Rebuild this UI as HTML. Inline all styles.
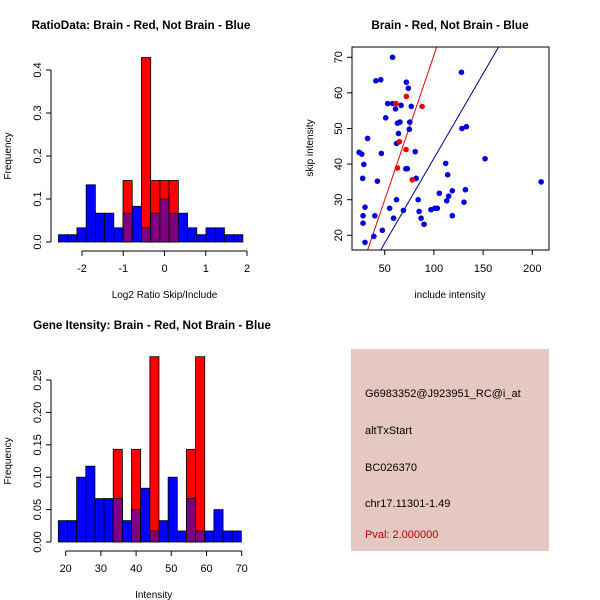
<!DOCTYPE html>
<html><head><meta charset="utf-8"><style>
body{margin:0;background:#fff}
svg{display:block;font-family:"Liberation Sans",sans-serif}
</style></head><body>
<svg id="s" width="600" height="600" xmlns="http://www.w3.org/2000/svg">
<rect x="351" y="349" width="198" height="202" fill="#e6c8c2"/>
<g font-size="11">
<text x="365" y="397">G6983352@J923951_RC@i_at</text>
<text x="365" y="434">altTxStart</text>
<text x="365" y="471">BC026370</text>
<text x="365" y="507">chr17.11301-1.49</text>
<text x="365" y="538" fill="#b00000">Pval: 2.000000</text>
</g>
</svg>
<script>
// ---- Histogram 1: RatioData ----
const h1Blue=[0.017,0.017,0.033,0.133,0.067,0.067,0.033,0.067,0.083,0.033,0.067,0.1,0.067,0.067,0.033,0.017,0.033,0.033,0.017,0.017];
const h1Red=[0,0,0,0,0,0,0,0.143,0,0.429,0.143,0.143,0.143,0,0,0,0,0,0,0];
const h1Start=-2.57, h1Width=0.2235;
const h1XTicks=[-2,-1,0,1,2];
const h1YTicks=[0,0.1,0.2,0.3,0.4];
// ---- Histogram 2: Gene Intensity ----
const h2Blue=[0.033,0.033,0.1,0.117,0.067,0.067,0.067,0.033,0.05,0.083,0.017,0.033,0.1,0.017,0.067,0.017,0.017,0.05,0.017,0.017];
const h2Red=[0,0,0,0,0,0,0.143,0,0.143,0,0.286,0,0,0,0.143,0.286,0,0,0,0];
const h2Start=17.9, h2Width=2.6;
const h2XTicks=[20,30,40,50,60,70];
const h2YTicks=[0,0.05,0.10,0.15,0.20,0.25];
const h2YLabels=["0.00","0.05","0.10","0.15","0.20","0.25"];
// ---- Scatter ----
const blueX=[58,41,46,128,72,74,53,58,66.6,77,61,51,63,65.5,75.5,64,75,128.5,133,62,32.6,24,26.7,46.6,81,28.8,112,152,73,71.5,27.6,114,82,42.6,209,118.7,132,105.5,115,113,130.6,62,84,85,97,101,103.5,55,69,30,28,40,118.7,59,87,90,28,47.6,39,30];
const blueY=[70,63.4,63.7,65.8,63,61.3,57,57,56.5,56.2,55.5,53,51.5,51.8,51.8,48.6,49.8,50,50.5,45.8,47.2,43.3,42.8,43,43.5,39.9,40.2,41.5,38.7,38.7,36,37,36,35.2,35,32.5,32.8,31.8,31,29.7,29.3,30,30,26.7,27.2,27.6,27.6,27.6,27,27.9,25.5,25.5,25.5,24.8,24.8,23.1,23.4,21.4,19.7,18];
const redX=[61.5,72,88,65,71.7,63,78];
const redY=[57,59,56.2,46.3,44.1,38.9,35.6];
const redLine=[-10.65,0.812]; // intercept, slope
const blueLine=[-6.0,0.476];
const scXTicks=[50,100,150,200];
const scYTicks=[20,30,40,50,60,70];

const NS="http://www.w3.org/2000/svg", S=document.getElementById('s');
function mk(t,a,p){const e=document.createElementNS(NS,t);for(const k in a)e.setAttribute(k,a[k]);(p||S).appendChild(e);return e;}
function txt(x,y,s,a,p){const e=mk('text',Object.assign({x:x,y:y},a),p);e.textContent=s;return e;}

function hist(o){
 const g=mk('g',{});
 
 
 const X=v=>o.x0px+(v-o.x0)*o.xs, Y=v=>o.y0px-v*o.ys;
 const n=o.blue.length;
 for(let i=0;i<n;i++){
  const a=X(o.start+i*o.w), b=X(o.start+(i+1)*o.w);
  if(o.blue[i]>0){const r=mk('rect',{x:a,y:Y(o.blue[i]),width:b-a,height:o.blue[i]*o.ys,fill:'#0000ff',stroke:'#000','stroke-width':0.8},g);
   }
  if(o.red[i]>0){const r=mk('rect',{x:a,y:Y(o.red[i]),width:b-a,height:o.red[i]*o.ys,fill:'#ff0000',stroke:'#000','stroke-width':0.8},g);
   
   const m=Math.min(o.red[i],o.blue[i]);
   if(m>0){const p=mk('rect',{x:a,y:Y(m),width:b-a,height:m*o.ys,fill:'#7f007f',stroke:'#000','stroke-width':0.8},g);
    }
  }
 }
 const yt=o.yt;
 mk('line',{x1:o.yax,x2:o.yax,y1:Y(yt[0]),y2:Y(yt[yt.length-1]),stroke:'#000'},g);
 yt.forEach((v,i)=>{mk('line',{x1:o.yax-5,x2:o.yax,y1:Y(v),y2:Y(v),stroke:'#000'},g);
  const t=txt(o.yax-10,Y(v),o.yl[i],{'font-size':11,'text-anchor':'middle',transform:`rotate(-90 ${o.yax-10} ${Y(v)})`},g);
  });
 const xt=o.xt,xa=o.xax;
 mk('line',{x1:X(xt[0]),x2:X(xt[xt.length-1]),y1:xa,y2:xa,stroke:'#000'},g);
 xt.forEach(v=>{mk('line',{x1:X(v),x2:X(v),y1:xa,y2:xa+5,stroke:'#000'},g);
  const t=txt(X(v),xa+21,String(v),{'font-size':11,'text-anchor':'middle'},g);
  });
 const t1=txt(o.titlex,o.titley,o.title,{'font-size':11.7,'font-weight':'bold','text-anchor':'middle'},g);
 
 const t2=txt(X(o.xlabc),xa+47,o.xlab,{'font-size':10,'text-anchor':'middle'},g);
 
 const yc=(Y(yt[0])+Y(yt[yt.length-1]))/2;
 const t3=txt(11,yc,'Frequency',{'font-size':10,'text-anchor':'middle',transform:`rotate(-90 11 ${yc})`},g);
 
}
hist({name:'ratio-histogram',blue:h1Blue,red:h1Red,start:h1Start,w:h1Width,x0:-2,x0px:82,xs:41.25,y0px:242,ys:430,
 yt:h1YTicks,yl:["0.0","0.1","0.2","0.3","0.4"],xt:h1XTicks,yax:51,xax:251,title:'RatioData: Brain - Red, Not Brain - Blue',titlex:141,titley:29,xlab:'Log2 Ratio Skip/Include',xlabc:0});
hist({name:'intensity-histogram',blue:h2Blue,red:h2Red,start:h2Start,w:h2Width,x0:20,x0px:65.7,xs:3.52,y0px:542,ys:648,
 yt:h2YTicks,yl:h2YLabels,xt:h2XTicks,yax:51,xax:551,title:'Gene Itensity: Brain - Red, Not Brain - Blue',titlex:152,titley:329,xlab:'Intensity',xlabc:45});

(function(){
 const g=mk('g',{});
 
 
 const L=352,R=549,T=47,B=250;
 const X=v=>384.7+(v-50)*0.984, Y=v=>235.3-(v-20)*3.56;
 const cp=mk('clipPath',{id:'cp'},g);mk('rect',{x:L,y:T,width:R-L,height:B-T},cp);
 [[redLine,'#e00000','red-fit-line'],[blueLine,'#00008b','blue-fit-line']].forEach(([ab,c,n])=>{
  const x1=0,x2=250;const l=mk('line',{x1:X(x1),y1:Y(ab[0]+ab[1]*x1),x2:X(x2),y2:Y(ab[0]+ab[1]*x2),stroke:c,'stroke-width':1,'clip-path':'url(#cp)'},g);
  });
 blueX.forEach((v,i)=>{const c=mk('circle',{cx:X(v),cy:Y(blueY[i]),r:2.8,fill:'#0000dd'},g);
  });
 redX.forEach((v,i)=>{const c=mk('circle',{cx:X(v),cy:Y(redY[i]),r:2.8,fill:'#ee0000'},g);
  });
 mk('rect',{x:L,y:T,width:R-L,height:B-T,fill:'none',stroke:'#000'},g);
 scXTicks.forEach(v=>{mk('line',{x1:X(v),x2:X(v),y1:B,y2:B+5,stroke:'#000'},g);
  const t=txt(X(v),B+22,String(v),{'font-size':11,'text-anchor':'middle'},g);
  });
 scYTicks.forEach(v=>{mk('line',{x1:L-5,x2:L,y1:Y(v),y2:Y(v),stroke:'#000'},g);
  const t=txt(L-10,Y(v),String(v),{'font-size':11,'text-anchor':'middle',transform:`rotate(-90 ${L-10} ${Y(v)})`},g);
  });
 const t1=txt(450,29,'Brain - Red, Not Brain - Blue',{'font-size':11.7,'font-weight':'bold','text-anchor':'middle'},g);
 
 const t2=txt(450,298,'include intensity',{'font-size':10,'text-anchor':'middle'},g);
 
 const t3=txt(313,148,'skip intensity',{'font-size':10,'text-anchor':'middle',transform:'rotate(-90 313 148)'},g);
 
})();
</script>
</body></html>
